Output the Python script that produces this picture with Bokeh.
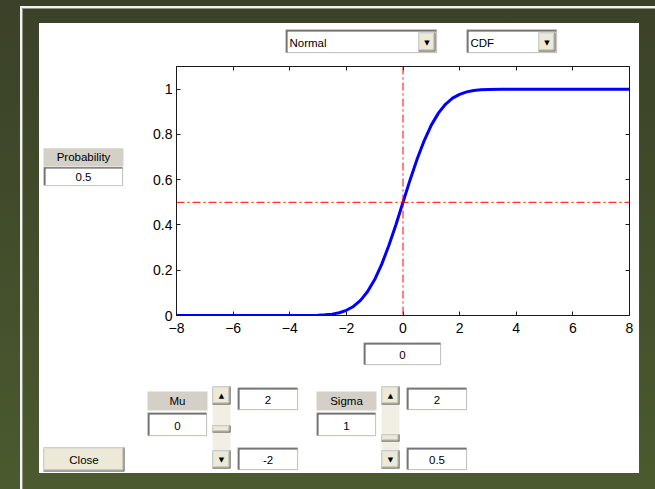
from bokeh.plotting import figure
from bokeh.models import FixedTicker, LinearAxis, Range1d, Span
from bokeh.layouts import column, row
from bokeh.core.properties import value
from bokeh.embed import file_html
from bokeh.resources import INLINE

# ---- data ----
x_vals = [-8, -4, -3.5, -3, -2.75, -2.5, -2.25, -2, -1.75, -1.5, -1.25, -1, -0.75, -0.5, -0.25, 0,
          0.25, 0.5, 0.75, 1, 1.25, 1.5, 1.75, 2, 2.25, 2.5, 2.75, 3, 3.5, 4, 8]
cdf_vals = [0, 0.0001, 0.0002, 0.0013, 0.003, 0.006, 0.012, 0.023, 0.040, 0.067, 0.106, 0.159, 0.227,
            0.309, 0.401, 0.5, 0.599, 0.691, 0.773, 0.841, 0.894, 0.933, 0.960, 0.977, 0.988, 0.994,
            0.997, 0.9987, 0.9998, 0.9999, 1]
x_ticks = [-8, -6, -4, -2, 0, 2, 4, 6, 8]
y_ticks = [0, 0.2, 0.4, 0.6, 0.8, 1]
x_tick_labels = ["\u22128", "\u22126", "\u22124", "\u22122", "0", "2", "4", "6", "8"]
y_tick_labels = ["0", "0.2", "0.4", "0.6", "0.8", "1"]
cross_x = 0
cross_p = 0.5
dist_name = "Normal"
func_name = "CDF"
prob_text = "0.5"
x_text = "0"
mu, mu_hi, mu_lo = "0", "2", "-2"
sigma, sigma_hi, sigma_lo = "1", "2", "0.5"

FONT = "Liberation Sans"
PAGE_W, PAGE_H = 655, 489

# window background (olive gradient, frame lines, white panel) as CSS behind transparent canvases
BG = ", ".join([
    "linear-gradient(#ffffff,#ffffff) 39px 23px / 600px 450px no-repeat",
    "linear-gradient(#f2f2f2,#f2f2f2) 20px 6px / 635px 2px no-repeat",
    "linear-gradient(#8c9480,#8c9480) 22px 8px / 633px 1px no-repeat",
    "linear-gradient(#f2f2f2,#f2f2f2) 20px 6px / 2px 483px no-repeat",
    "linear-gradient(#8c9480,#8c9480) 22px 8px / 1px 481px no-repeat",
    "linear-gradient(to bottom, #3a4128, #4b5a2f)",
])


def deco(px0, px1, py0, py1):
    d = figure(width=px1 - px0, height=py1 - py0, output_backend="svg", toolbar_location=None,
               x_range=Range1d(px0, px1), y_range=Range1d(py1, py0),
               min_border=0, x_axis_location=None, y_axis_location=None)
    d.title.visible = False
    d.grid.visible = False
    d.outline_line_color = None
    d.background_fill_alpha = 0
    d.border_fill_alpha = 0
    return d


def box(d, x0, y0, x1, y1, color):
    d.quad(left=[x0], right=[x1], top=[y0], bottom=[y1], fill_color=color, line_color=None)


def text(d, x, y, s, size="11.5px", align="center", font=FONT, color="black"):
    d.text(x=[x], y=[y], text=[s], text_align=align, text_baseline="middle",
           text_font=value(font), text_font_size=value(size), text_color=color)


def edit(d, x0, y0, x1, y1, s=None, align="center"):
    box(d, x0, y0, x1, y1, "#f1efe2")
    box(d, x0, y0, x1 - 1, y1 - 1, "#9a9a9a")
    box(d, x0 + 1, y0 + 1, x1 - 1, y1 - 1, "#505050")
    box(d, x0 + 2, y0 + 2, x1 - 1, y1 - 1, "white")
    if s is not None:
        if align == "center":
            text(d, (x0 + x1) / 2, (y0 + y1) / 2 + 1, s)
        else:
            text(d, x0 + 4, (y0 + y1) / 2 + 1, s, align="left")


def raised(d, x0, y0, x1, y1):
    box(d, x0, y0, x1, y1, "#404040")
    box(d, x0, y0, x1 - 1, y1 - 1, "white")
    box(d, x0 + 1, y0 + 1, x1 - 1, y1 - 1, "#aca899")
    box(d, x0 + 1, y0 + 1, x1 - 2, y1 - 2, "#ece9d8")


def arrow(d, x, y, up):
    text(d, x, y, "\u25B2" if up else "\u25BC", size="7px", font="DejaVu Sans")


# top strip: y 0..58
T = deco(0, PAGE_W, 0, 58)
edit(T, 285, 29, 437, 53, dist_name, align="left")
raised(T, 418, 32, 435, 51)
arrow(T, 426.5, 42, False)
edit(T, 466, 29, 557, 53, func_name, align="left")
raised(T, 538, 32, 555, 51)
arrow(T, 546.5, 42, False)

# left strip: x 0..130, y 58..341
L = deco(0, 130, 58, 341)
box(L, 43, 151, 123, 171, "#d4d0c8")
text(L, 83, 161, "Probability")
edit(L, 43, 172, 123, 194, prob_text)

# right strip
R = deco(639, PAGE_W, 58, 341)

# bottom strip: y 341..489
B = deco(0, PAGE_W, 341, PAGE_H)
edit(B, 363, 342, 441, 365, x_text)
# Mu
box(B, 147, 391, 207, 410, "#d4d0c8")
text(B, 177, 400, "Mu")
edit(B, 147, 412, 207, 436, mu)
box(B, 212, 386, 230, 468, "#f1efe4")
raised(B, 212, 386, 230, 404)
arrow(B, 221, 395, True)
raised(B, 212, 450, 230, 468)
arrow(B, 221, 459, False)
raised(B, 212, 425, 230, 432)
edit(B, 237, 387, 298, 410, mu_hi)
edit(B, 237, 447, 298, 470, mu_lo)
# Sigma
box(B, 316, 391, 376, 410, "#d4d0c8")
text(B, 346, 400, "Sigma")
edit(B, 316, 412, 376, 436, sigma)
box(B, 381, 386, 399, 468, "#f1efe4")
raised(B, 381, 386, 399, 404)
arrow(B, 390, 395, True)
raised(B, 381, 450, 399, 468)
arrow(B, 390, 459, False)
raised(B, 381, 434, 399, 441)
edit(B, 406, 387, 467, 410, sigma_hi)
edit(B, 406, 447, 467, 470, sigma_lo)
# Close
raised(B, 43, 447, 124, 471)
text(B, 83.5, 459, "Close")

# ---------------- chart figure: x 130..639, y 58..341 ----------------
C = figure(width=509, height=283, output_backend="svg", toolbar_location=None,
           x_range=Range1d(-8, 8), y_range=Range1d(0, 1.1),
           min_border_left=46, min_border_right=10, min_border_top=8, min_border_bottom=26,
           x_axis_location=None, y_axis_location=None)
C.title.visible = False
C.grid.visible = False
C.background_fill_color = "white"
C.border_fill_alpha = 0
C.outline_line_color = "#1a1a1a"

xb = LinearAxis(ticker=FixedTicker(ticks=x_ticks),
                major_label_overrides={t: s for t, s in zip(x_ticks, x_tick_labels)})
yl = LinearAxis(ticker=FixedTicker(ticks=y_ticks),
                major_label_overrides={t: s for t, s in zip(y_ticks, y_tick_labels)})
xt = LinearAxis(ticker=FixedTicker(ticks=x_ticks))
yr = LinearAxis(ticker=FixedTicker(ticks=y_ticks))
for ax in (xb, yl, xt, yr):
    ax.major_tick_in = 4
    ax.major_tick_out = 0
    ax.minor_tick_line_color = None
    ax.axis_line_color = "#1a1a1a"
    ax.major_tick_line_color = "#1a1a1a"
    ax.major_label_text_font = FONT
    ax.major_label_text_font_size = "14px"
    ax.major_label_text_color = "black"
    ax.major_label_standoff = 4
xb.major_label_standoff = 7
for ax in (xt, yr):
    ax.major_label_text_font_size = "0px"
    ax.major_label_text_color = None
    ax.major_label_standoff = 0
C.add_layout(xb, "below")
C.add_layout(yl, "left")
C.add_layout(xt, "above")
C.add_layout(yr, "right")

C.add_layout(Span(location=cross_x, dimension="height", line_color="red", line_width=1,
                  line_dash="8 3 2 3"))
C.add_layout(Span(location=cross_p, dimension="width", line_color="red", line_width=1,
                  line_dash="8 3 2 3"))
C.line(x_vals, cdf_vals, line_color="#0000ff", line_width=3)

layout = column(T, row(L, C, R), B, styles={"background": BG})
open("out.html", "w").write(file_html(layout, INLINE))
